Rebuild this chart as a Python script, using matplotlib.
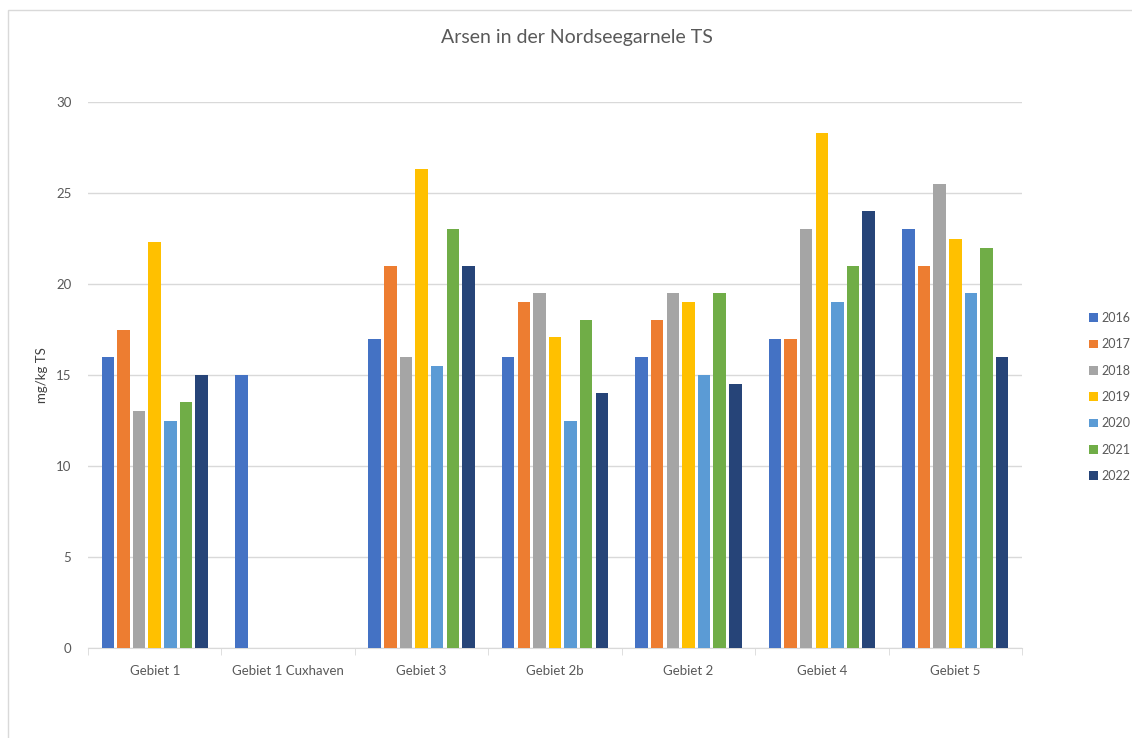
import numpy as np
import matplotlib
matplotlib.use('Agg')
import matplotlib.pyplot as plt
from matplotlib.patches import Rectangle

plt.rcParams['font.family'] = ['Lato', 'DejaVu Sans']

categories = ['Gebiet 1', 'Gebiet 1 Cuxhaven', 'Gebiet 3', 'Gebiet 2b',
              'Gebiet 2', 'Gebiet 4', 'Gebiet 5']
years = ['2016', '2017', '2018', '2019', '2020', '2021', '2022']
nan = np.nan
v2016 = [16, 15, 17, 16, 16, 17, 23]
v2017 = [17.5, nan, 21, 19, 18, 17, 21]
v2018 = [13, nan, 16, 19.5, 19.5, 23, 25.5]
v2019 = [22.3, nan, 26.3, 17.1, 19, 28.3, 22.5]
v2020 = [12.5, nan, 15.5, 12.5, 15, 19, 19.5]
v2021 = [13.5, nan, 23, 18, 19.5, 21, 22]
v2022 = [15, nan, 21, 14, 14.5, 24, 16]
series = [v2016, v2017, v2018, v2019, v2020, v2021, v2022]
colors = ['#4472C4', '#ED7D31', '#A5A5A5', '#FFC000', '#5B9BD5', '#70AD47', '#264478']

fig = plt.figure(figsize=(11.32, 7.38), dpi=100)
ax = fig.add_axes([88/1132, 90/738, (1022-88)/1132, (648-102)/738])

# chart border
fig.patches.append(Rectangle((8/1132, -0.01), 1.0, 1 - 10/738 + 0.01,
                             transform=fig.transFigure, fill=False,
                             edgecolor='#D9D9D9', linewidth=1))

x = np.arange(len(categories))
step = 0.117
for i, (vals, c, yr) in enumerate(zip(series, colors, years)):
    ax.bar(x + (i - 3) * step, vals, width=step * 0.8, color=c, label=yr, zorder=3)

ax.set_xlim(-0.5, len(categories) - 0.5)
ax.set_ylim(0, 30)
ax.set_yticks(range(0, 31, 5))
ax.grid(axis='y', color='#D9D9D9', linewidth=1, zorder=0)
for s in ['left', 'right', 'top']:
    ax.spines[s].set_visible(False)
ax.spines['bottom'].set_color('#D9D9D9')
ax.set_xticks(x)
ax.set_xticklabels(categories)
ax.set_xticks(np.arange(-0.5, len(categories)), minor=True)
ax.tick_params(axis='x', which='major', length=0, pad=12, labelsize=9.5, labelcolor='#595959')
ax.tick_params(axis='x', which='minor', length=5, color='#D9D9D9')
ax.tick_params(axis='y', length=0, pad=12, labelsize=9.5, labelcolor='#595959')
ax.set_ylabel('mg/kg TS', fontsize=9.5, color='#404040')
ax.yaxis.set_label_coords(-0.043, 0.5)

fig.text(577/1132, 1 - 38/738, 'Arsen in der Nordseegarnele TS',
         ha='center', va='center', fontsize=14, color='#595959')

handles, labels = ax.get_legend_handles_labels()
fig.legend(handles, labels, loc='center left', bbox_to_anchor=(1078/1132, 1 - 397/738),
           frameon=False, fontsize=9, labelcolor='#595959', handlelength=0.7,
           handleheight=0.7, handletextpad=0.3, labelspacing=1.15)

fig.savefig('out.png', dpi=100, facecolor='white')
